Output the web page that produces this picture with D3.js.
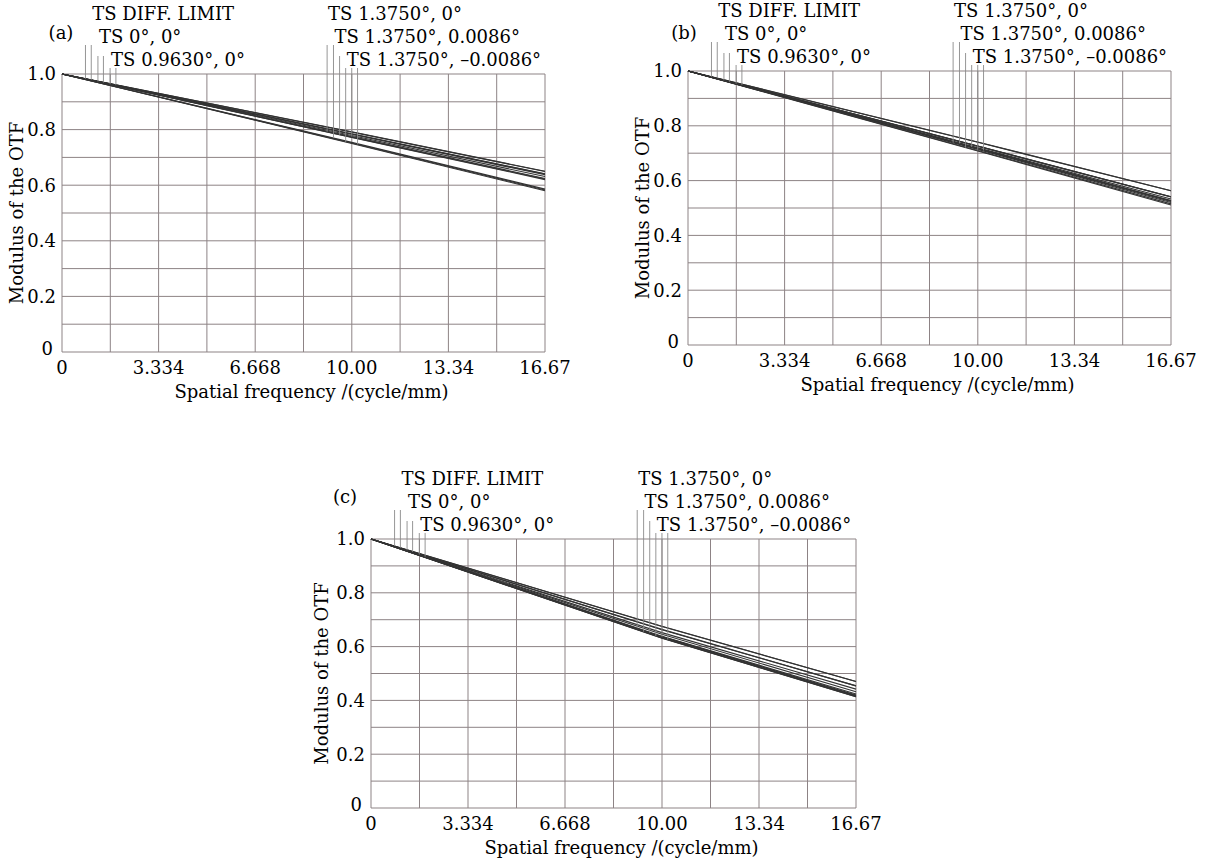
<!DOCTYPE html>
<html>
<head>
<meta charset="utf-8">
<script src="https://cdn.jsdelivr.net/npm/d3@7"></script>
<style>
  body { margin: 0; background: #ffffff; }
  svg text { font-family: "DejaVu Serif", serif; fill: #000; }
</style>
</head>
<body>
<div id="chart"></div>
<script>
// spatial frequency where MTF values were read
var freq = [0, 10.00, 16.67];
var xTicks = [0, 3.334, 6.668, 10.00, 13.34, 16.67];
var xTickLabels = ["0", "3.334", "6.668", "10.00", "13.34", "16.67"];
var yTicks = [0, 0.2, 0.4, 0.6, 0.8, 1.0];
var yTickLabels = ["0", "0.2", "0.4", "0.6", "0.8", "1.0"];

var fieldsLeft = ["TS DIFF. LIMIT", "TS 0°, 0°", "TS 0.9630°, 0°"];
var fieldsRight = ["TS 1.3750°, 0°", "TS 1.3750°, 0.0086°", "TS 1.3750°, –0.0086°"];
// leader line positions (cycle/mm), T and S for each field
var leaderFreq = [0.81, 1.01, 1.24, 1.43, 1.66, 1.86, 9.15, 9.37, 9.58, 9.79, 10.00, 10.20];
var labelFreqLeft = [1.01, 1.24, 1.66];
var labelFreqRight = [9.15, 9.37, 9.79];

// MTF per series (T, S for each field) at freq[]
var mtfA = [
  [1, 0.792, 0.650], [1, 0.791, 0.649],
  [1, 0.785, 0.641], [1, 0.784, 0.640],
  [1, 0.779, 0.631], [1, 0.783, 0.638],
  [1, 0.773, 0.622], [1, 0.754, 0.586],
  [1, 0.772, 0.620], [1, 0.750, 0.580],
  [1, 0.775, 0.624], [1, 0.752, 0.583]
];
var mtfB = [
  [1, 0.741, 0.563], [1, 0.740, 0.563],
  [1, 0.726, 0.541], [1, 0.726, 0.541],
  [1, 0.720, 0.533], [1, 0.725, 0.540],
  [1, 0.714, 0.520], [1, 0.718, 0.527],
  [1, 0.708, 0.511], [1, 0.717, 0.526],
  [1, 0.710, 0.515], [1, 0.716, 0.524]
];
var mtfC = [
  [1, 0.676, 0.470], [1, 0.675, 0.470],
  [1, 0.664, 0.454], [1, 0.663, 0.454],
  [1, 0.652, 0.442], [1, 0.646, 0.432],
  [1, 0.638, 0.424], [1, 0.632, 0.414],
  [1, 0.636, 0.418], [1, 0.631, 0.414],
  [1, 0.637, 0.420], [1, 0.633, 0.416]
];

var panels = [
  {tag: "(a)", data: mtfA, left: 62, top: 74, w: 483, h: 278, tagDx: -1, tagDy: -41, yTitleX: 17},
  {tag: "(b)", data: mtfB, left: 688, top: 71, w: 483, h: 274, tagDx: -4, tagDy: -38, yTitleX: 643},
  {tag: "(c)", data: mtfC, left: 371, top: 539, w: 485, h: 269, tagDx: -26, tagDy: -42, yTitleX: 322}
];

var gridColor = "#8d8385",
    lineColor = "#333",
    leaderColor = "#8a8a8a",
    fs = 18;
// leader top ends relative to plot top
var leaderTops = [-29, -29, -18, -18, -6, -6, -29, -29, -18, -6, -6, -6];
var rowY = [-60, -37, -14];

var svg = d3.select("#chart").append("svg")
  .attr("width", 1207).attr("height", 864);

panels.forEach(function(p) {
  var x = d3.scaleLinear().domain([0, 16.67]).range([p.left, p.left + p.w]);
  var y = d3.scaleLinear().domain([0, 1]).range([p.top + p.h, p.top]);
  var g = svg.append("g");

  // grid: 10 x 10
  var gx = d3.range(11).map(function(i){ return i * 16.67 / 10; });
  var gy = d3.range(11).map(function(i){ return i / 10; });
  g.selectAll(".vg").data(gx).enter().append("line")
    .attr("x1", d => x(d)).attr("x2", d => x(d))
    .attr("y1", y(0)).attr("y2", y(1))
    .attr("stroke", gridColor).attr("stroke-width", 1);
  g.selectAll(".hg").data(gy).enter().append("line")
    .attr("x1", x(0)).attr("x2", x(16.67))
    .attr("y1", d => y(d)).attr("y2", d => y(d))
    .attr("stroke", gridColor).attr("stroke-width", 1);

  // curves
  var line = d3.line().x((d, i) => x(freq[i])).y(d => y(d));
  g.selectAll(".curve").data(p.data).enter().append("path")
    .attr("d", line).attr("fill", "none")
    .attr("stroke", lineColor).attr("stroke-width", 1.1);

  // leaders
  function valAt(series, f) {
    for (var i = 1; i < freq.length; i++) {
      if (f <= freq[i]) {
        var t = (f - freq[i-1]) / (freq[i] - freq[i-1]);
        return series[i-1] + t * (series[i] - series[i-1]);
      }
    }
    return series[series.length - 1];
  }
  g.selectAll(".leader").data(leaderFreq).enter().append("line")
    .attr("x1", d => x(d)).attr("x2", d => x(d))
    .attr("y1", (d, i) => p.top + leaderTops[i])
    .attr("y2", (d, i) => y(valAt(p.data[i], d)))
    .attr("stroke", leaderColor).attr("stroke-width", 0.9);

  // field labels
  fieldsLeft.forEach(function(t, i) {
    g.append("text").attr("x", x(labelFreqLeft[i]) + 1).attr("y", p.top + rowY[i])
      .attr("dy", "0.35em").attr("font-size", fs).text(t);
  });
  fieldsRight.forEach(function(t, i) {
    g.append("text").attr("x", x(labelFreqRight[i]) + 1).attr("y", p.top + rowY[i])
      .attr("dy", "0.35em").attr("font-size", fs).text(t);
  });

  g.append("text").attr("x", p.left + p.tagDx).attr("y", p.top + p.tagDy)
    .attr("dy", "0.35em").attr("text-anchor", "middle").attr("font-size", fs).text(p.tag);

  // tick labels
  g.selectAll(".xt").data(xTicks).enter().append("text")
    .attr("x", d => x(d)).attr("y", y(0) + 16).attr("dy", "0.35em")
    .attr("text-anchor", "middle").attr("font-size", fs)
    .text((d, i) => xTickLabels[i]);
  g.selectAll(".yt").data(yTicks).enter().append("text")
    .attr("x", d => x(0) - (d === 0 ? 9 : 6)).attr("y", d => y(d) - (d === 0 ? 3 : 0)).attr("dy", "0.35em")
    .attr("text-anchor", "end").attr("font-size", fs)
    .text((d, i) => yTickLabels[i]);

  // axis titles
  g.append("text").attr("x", p.left + p.w / 2 + 8).attr("y", y(0) + 40).attr("dy", "0.35em")
    .attr("text-anchor", "middle").attr("font-size", fs).text("Spatial frequency /(cycle/mm)");
  g.append("text")
    .attr("transform", "translate(" + p.yTitleX + "," + (p.top + p.h / 2) + ") rotate(-90)")
    .attr("dy", "0.35em").attr("text-anchor", "middle").attr("font-size", fs)
    .text("Modulus of the OTF");
});
</script>
</body>
</html>
